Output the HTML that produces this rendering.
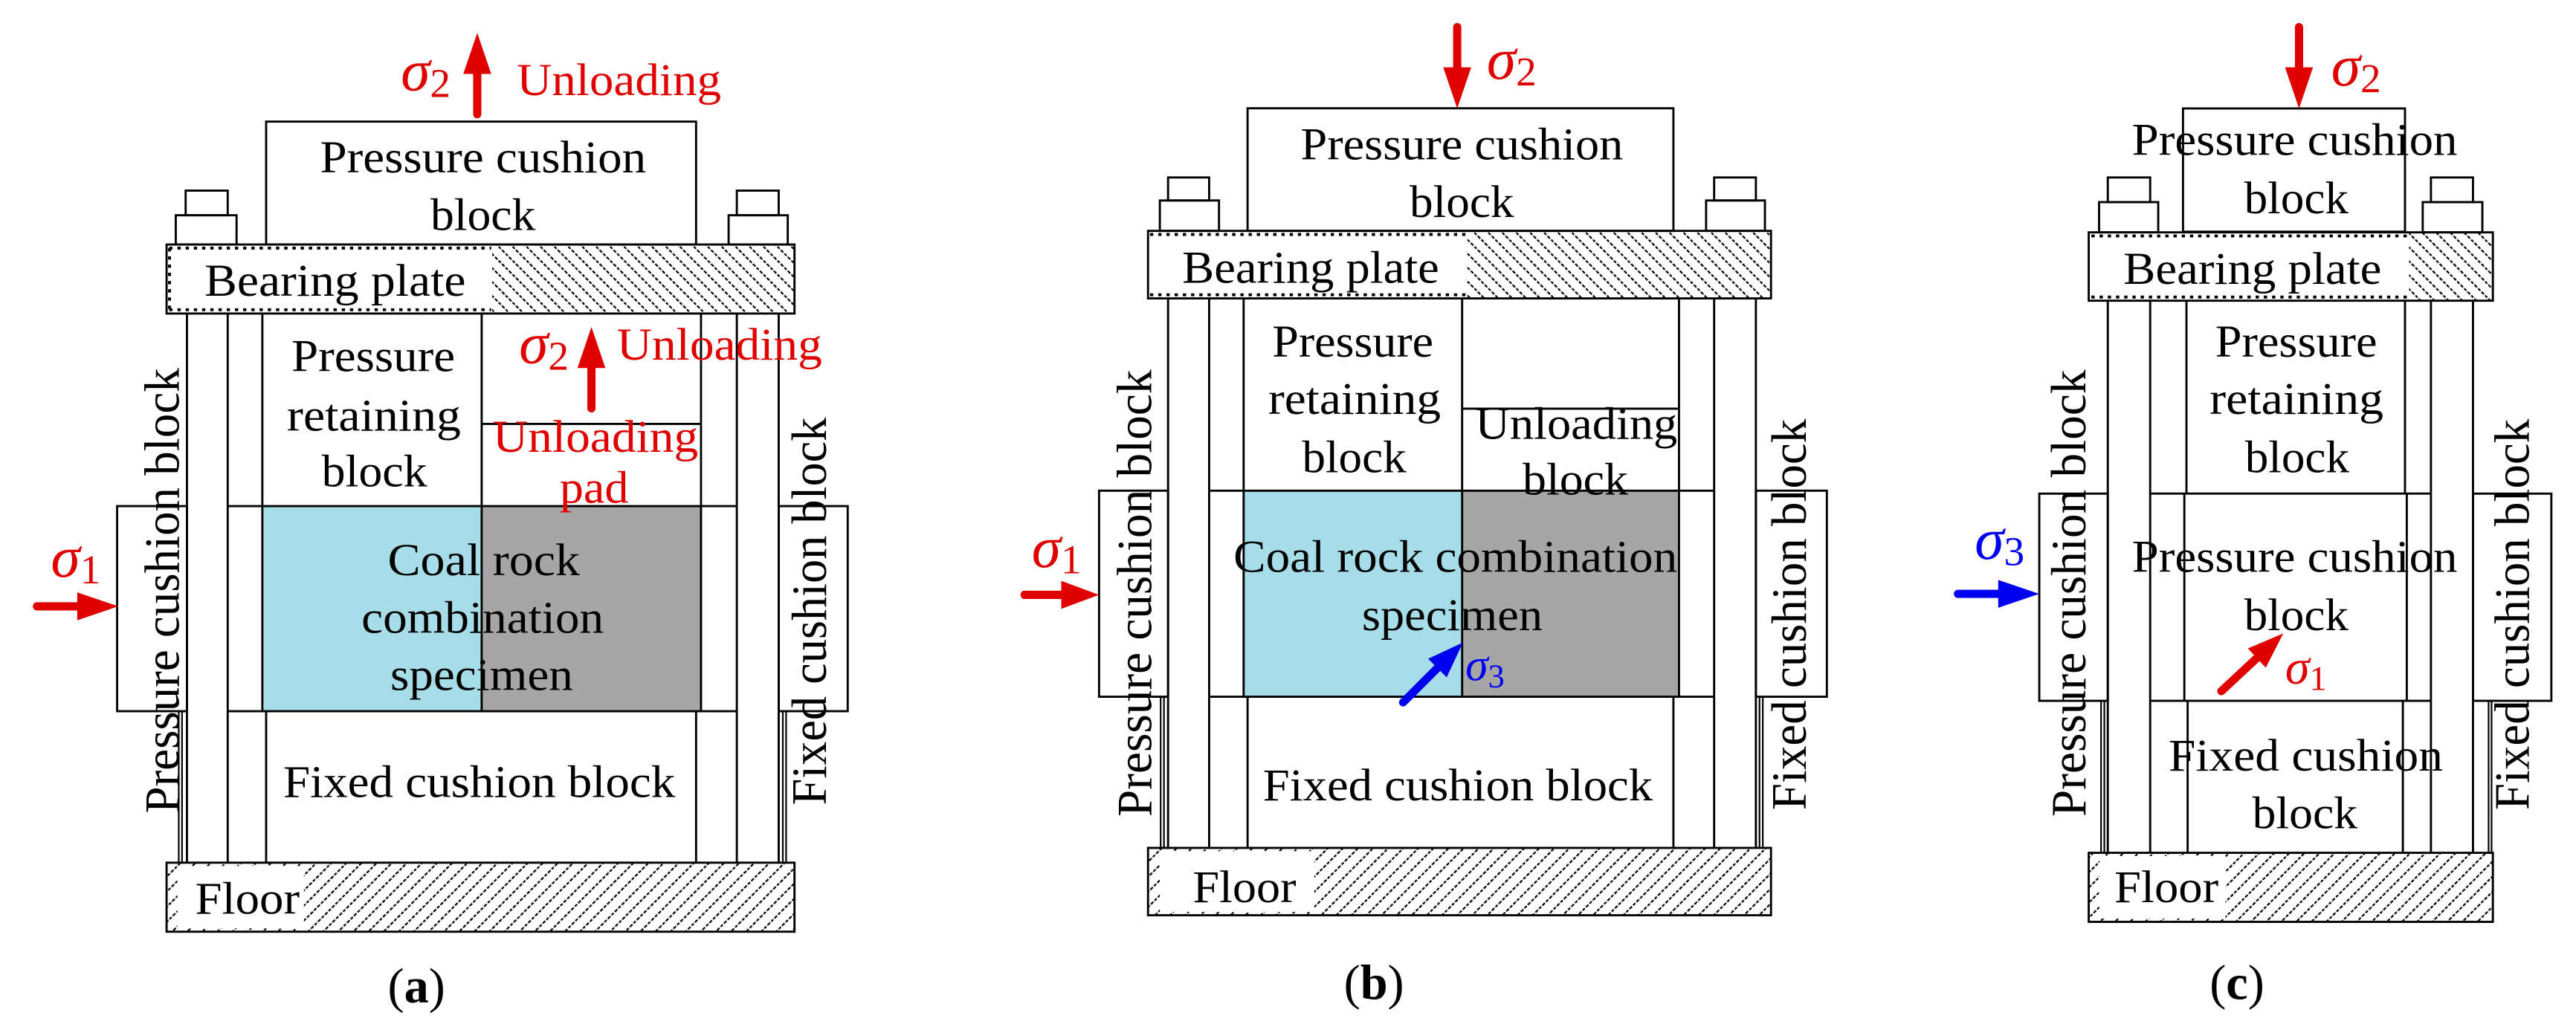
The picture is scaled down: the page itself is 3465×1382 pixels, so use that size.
<!DOCTYPE html>
<html><head><meta charset="utf-8"><style>
html,body{margin:0;padding:0;background:#fff;}
svg{display:block;}
text{font-family:"Liberation Serif","DejaVu Serif",serif;}
</style></head><body>
<svg width="3465" height="1382" viewBox="0 0 1568 625" preserveAspectRatio="none" xmlns="http://www.w3.org/2000/svg">
<defs>
<pattern id="hb" patternUnits="userSpaceOnUse" width="6" height="6" patternTransform="rotate(-45)">
<line x1="0" y1="0" x2="0" y2="6" stroke="#000" stroke-width="2" stroke-dasharray="1.8 1"/>
</pattern>
<pattern id="hf" patternUnits="userSpaceOnUse" width="6.5" height="6" patternTransform="rotate(45)">
<line x1="0" y1="0" x2="0" y2="6" stroke="#000" stroke-width="2" stroke-dasharray="1.8 1"/>
</pattern>
<g id="arR"><rect x="-52" y="-2.5" width="30" height="5" rx="2.5"/><polygon points="-25,-8.5 0,0 -25,8.5"/></g>
<g id="arS"><rect x="-54" y="-2.5" width="34" height="5" rx="2.5"/><polygon points="-22,-8 0,0 -22,8"/></g>
</defs>
<g fill="none" stroke="#000" stroke-width="1.3">
<!-- ===== Panel (a) ===== -->
<rect x="159.7" y="308" width="133.5" height="124.8" fill="#a6dde8" stroke="none"/>
<rect x="293.2" y="308" width="134.2" height="124.8" fill="#a6a6a6" stroke="none"/>
<rect x="162" y="74" width="261.7" height="74.8"/>
<rect x="113" y="116" width="25.6" height="15"/><rect x="107" y="131" width="37" height="17.8"/>
<rect x="448.5" y="116" width="25.5" height="15"/><rect x="443.5" y="131" width="36" height="17.8"/>
<rect x="299.6" y="148.8" width="184" height="42" fill="url(#hb)" stroke="none"/>
<rect x="101.4" y="148.8" width="382.2" height="42"/>
<line x1="103" y1="151" x2="299" y2="151" stroke-dasharray="2 3" stroke-width="1.8"/>
<line x1="103" y1="188.5" x2="299" y2="188.5" stroke-dasharray="2 3" stroke-width="1.8"/>
<line x1="103.2" y1="151" x2="103.2" y2="188" stroke-dasharray="2 3" stroke-width="1.8"/>
<line x1="113.8" y1="190.8" x2="113.8" y2="525"/><line x1="138.6" y1="190.8" x2="138.6" y2="525"/>
<line x1="448.5" y1="190.8" x2="448.5" y2="525"/><line x1="474" y1="190.8" x2="474" y2="525"/>
<line x1="159.7" y1="190.8" x2="159.7" y2="432.8"/><line x1="426.7" y1="190.8" x2="426.7" y2="432.8"/>
<line x1="293.2" y1="190.8" x2="293.2" y2="432.8"/>
<line x1="293.2" y1="258" x2="426.7" y2="258"/>
<line x1="138.6" y1="308" x2="448.5" y2="308"/><line x1="138.6" y1="432.8" x2="448.5" y2="432.8"/>
<rect x="71.3" y="308" width="42.5" height="124.8"/><rect x="474" y="308" width="42" height="124.8"/>
<line x1="162" y1="432.8" x2="162" y2="525"/><line x1="423.7" y1="432.8" x2="423.7" y2="525"/>
<line x1="108.8" y1="432.8" x2="108.8" y2="525" stroke-width="1"/><line x1="110.8" y1="432.8" x2="110.8" y2="525" stroke-width="1"/>
<line x1="476.5" y1="432.8" x2="476.5" y2="525" stroke-width="1"/><line x1="478.5" y1="432.8" x2="478.5" y2="525" stroke-width="1"/>
<rect x="101.4" y="525" width="382.2" height="42" fill="url(#hf)" stroke="none"/>
<rect x="108" y="527" width="77" height="38" fill="#fff" stroke="none"/>
<rect x="101.4" y="525" width="382.2" height="42"/>
<!-- ===== Panel (b) ===== -->
<rect x="757" y="298.6" width="133" height="125.4" fill="#a6dde8" stroke="none"/>
<rect x="890" y="298.6" width="132" height="125.4" fill="#a6a6a6" stroke="none"/>
<rect x="759.4" y="65.9" width="259.2" height="74.6"/>
<rect x="711" y="108" width="25" height="14"/><rect x="706" y="122" width="36" height="18.5"/>
<rect x="1043.4" y="108" width="25.4" height="14"/><rect x="1038.5" y="122" width="35.8" height="18.5"/>
<rect x="892.7" y="140.5" width="185.3" height="41.1" fill="url(#hb)" stroke="none"/>
<rect x="698.8" y="140.5" width="379.2" height="41.1"/>
<line x1="700" y1="142.7" x2="892" y2="142.7" stroke-dasharray="2 3" stroke-width="1.8"/>
<line x1="700" y1="179.4" x2="892" y2="179.4" stroke-dasharray="2 3" stroke-width="1.8"/>
<line x1="711" y1="181.6" x2="711" y2="516"/><line x1="736" y1="181.6" x2="736" y2="516"/>
<line x1="1043.4" y1="181.6" x2="1043.4" y2="516"/><line x1="1068.8" y1="181.6" x2="1068.8" y2="516"/>
<line x1="757" y1="181.6" x2="757" y2="424"/><line x1="1022" y1="181.6" x2="1022" y2="424"/>
<line x1="890" y1="181.6" x2="890" y2="424"/>
<line x1="890" y1="248.7" x2="1022" y2="248.7"/>
<line x1="736" y1="298.6" x2="1043.4" y2="298.6"/><line x1="736" y1="424" x2="1043.4" y2="424"/>
<rect x="669" y="298.6" width="42" height="125.4"/><rect x="1068.8" y="298.6" width="43.2" height="125.4"/>
<line x1="759.4" y1="424" x2="759.4" y2="516"/><line x1="1018.6" y1="424" x2="1018.6" y2="516"/>
<line x1="706.5" y1="424" x2="706.5" y2="516" stroke-width="1"/><line x1="708.5" y1="424" x2="708.5" y2="516" stroke-width="1"/>
<line x1="1071" y1="424" x2="1071" y2="516" stroke-width="1"/><line x1="1073" y1="424" x2="1073" y2="516" stroke-width="1"/>
<rect x="698.8" y="516" width="379.2" height="41" fill="url(#hf)" stroke="none"/>
<rect x="706" y="518" width="94" height="37" fill="#fff" stroke="none"/>
<rect x="698.8" y="516" width="379.2" height="41"/>
<!-- ===== Panel (c) ===== -->
<rect x="1328.8" y="66" width="135.1" height="75"/>
<rect x="1283" y="108" width="25.8" height="15"/><rect x="1277.7" y="123" width="36" height="18.4"/>
<rect x="1479.7" y="108" width="25.6" height="15"/><rect x="1474.7" y="123" width="36.3" height="18.4"/>
<rect x="1466.4" y="141.4" width="51" height="41.6" fill="url(#hb)" stroke="none"/>
<rect x="1271.4" y="141.4" width="246" height="41.6"/>
<line x1="1273" y1="143.6" x2="1466" y2="143.6" stroke-dasharray="2 3" stroke-width="1.8"/>
<line x1="1273" y1="180.8" x2="1466" y2="180.8" stroke-dasharray="2 3" stroke-width="1.8"/>
<line x1="1283" y1="183" x2="1283" y2="519"/><line x1="1308.8" y1="183" x2="1308.8" y2="519"/>
<line x1="1479.7" y1="183" x2="1479.7" y2="519"/><line x1="1505.3" y1="183" x2="1505.3" y2="519"/>
<line x1="1330.9" y1="183" x2="1330.9" y2="300.4"/><line x1="1463.9" y1="183" x2="1463.9" y2="300.4"/>
<line x1="1329.6" y1="300.4" x2="1329.6" y2="426.5"/><line x1="1465" y1="300.4" x2="1465" y2="426.5"/>
<line x1="1331.6" y1="426.5" x2="1331.6" y2="519"/><line x1="1462.6" y1="426.5" x2="1462.6" y2="519"/>
<line x1="1308.8" y1="300.4" x2="1479.7" y2="300.4"/><line x1="1308.8" y1="426.5" x2="1479.7" y2="426.5"/>
<rect x="1241.3" y="300.4" width="41.7" height="126.1"/><rect x="1505.3" y="300.4" width="47.7" height="126.1"/>
<line x1="1278.9" y1="426.5" x2="1278.9" y2="519" stroke-width="1"/><line x1="1280.9" y1="426.5" x2="1280.9" y2="519" stroke-width="1"/>
<line x1="1514.8" y1="426.5" x2="1514.8" y2="519" stroke-width="1"/><line x1="1516.6" y1="426.5" x2="1516.6" y2="519" stroke-width="1"/>
<rect x="1271.4" y="519" width="246" height="42" fill="url(#hf)" stroke="none"/>
<rect x="1278" y="521" width="76.7" height="38" fill="#fff" stroke="none"/>
<rect x="1271.4" y="519" width="246" height="42"/>
</g>

<!-- arrows -->
<g fill="#e00000">
<use href="#arR" transform="translate(290.5,20) rotate(-90)"/>
<use href="#arR" transform="translate(360,199) rotate(-90)"/>
<use href="#arR" transform="translate(72,369)"/>
<use href="#arR" transform="translate(887,66) rotate(90)"/>
<use href="#arR" transform="translate(669,362) scale(0.92,1)"/>
<use href="#arR" transform="translate(1399.4,66) rotate(90)"/>
<use href="#arS" transform="translate(1389.8,385.5) rotate(-43)"/>
</g>
<g fill="#0000f0">
<use href="#arS" transform="translate(890.5,391) rotate(-45)"/>
<use href="#arR" transform="translate(1241.3,361.4)"/>
</g>

<!-- text -->
<g font-size="28" fill="#000">
<!-- (a) -->
<text x="194.8" y="105" textLength="198.5" lengthAdjust="spacingAndGlyphs">Pressure cushion</text>
<text x="262" y="140" textLength="64" lengthAdjust="spacingAndGlyphs">block</text>
<text x="124.5" y="180" textLength="159" lengthAdjust="spacingAndGlyphs">Bearing plate</text>
<text x="177.4" y="226" textLength="99.6" lengthAdjust="spacingAndGlyphs">Pressure</text>
<text x="174.7" y="262" textLength="105.8" lengthAdjust="spacingAndGlyphs">retaining</text>
<text x="195.8" y="296" textLength="64.2" lengthAdjust="spacingAndGlyphs">block</text>
<text x="236" y="350" textLength="117" lengthAdjust="spacingAndGlyphs">Coal rock</text>
<text x="220" y="385" textLength="147.5" lengthAdjust="spacingAndGlyphs">combination</text>
<text x="237.6" y="420" textLength="111.2" lengthAdjust="spacingAndGlyphs">specimen</text>
<text x="172.4" y="485" textLength="238.6" lengthAdjust="spacingAndGlyphs">Fixed cushion block</text>
<text x="118.8" y="556" textLength="63.6" lengthAdjust="spacingAndGlyphs">Floor</text>
<text font-size="30" transform="translate(108.8,495) rotate(-90)" textLength="271" lengthAdjust="spacingAndGlyphs">Pressure cushion block</text>
<text font-size="30" transform="translate(502.7,490) rotate(-90)" textLength="236" lengthAdjust="spacingAndGlyphs">Fixed cushion block</text>
<text x="236" y="610" font-size="30">(<tspan font-weight="bold">a</tspan>)</text>
<!-- (b) -->
<text x="791.7" y="97" textLength="196.3" lengthAdjust="spacingAndGlyphs">Pressure cushion</text>
<text x="858" y="132" textLength="63.6" lengthAdjust="spacingAndGlyphs">block</text>
<text x="719.6" y="172" textLength="156.4" lengthAdjust="spacingAndGlyphs">Bearing plate</text>
<text x="774.4" y="217" textLength="98.1" lengthAdjust="spacingAndGlyphs">Pressure</text>
<text x="772" y="252" textLength="105" lengthAdjust="spacingAndGlyphs">retaining</text>
<text x="792.6" y="287.5" textLength="63.4" lengthAdjust="spacingAndGlyphs">block</text>
<text x="898" y="267" textLength="123" lengthAdjust="spacingAndGlyphs">Unloading</text>
<text x="926.8" y="301" textLength="64.2" lengthAdjust="spacingAndGlyphs">block</text>
<text x="750.8" y="348" textLength="270.2" lengthAdjust="spacingAndGlyphs">Coal rock combination</text>
<text x="829" y="383.5" textLength="110" lengthAdjust="spacingAndGlyphs">specimen</text>
<text x="768.7" y="487" textLength="237.3" lengthAdjust="spacingAndGlyphs">Fixed cushion block</text>
<text x="726" y="549" textLength="63" lengthAdjust="spacingAndGlyphs">Floor</text>
<text font-size="30" transform="translate(700.8,497) rotate(-90)" textLength="272" lengthAdjust="spacingAndGlyphs">Pressure cushion block</text>
<text font-size="30" transform="translate(1099.1,493) rotate(-90)" textLength="238" lengthAdjust="spacingAndGlyphs">Fixed cushion block</text>
<text x="818" y="608" font-size="30">(<tspan font-weight="bold">b</tspan>)</text>
<!-- (c) -->
<text x="1297.7" y="94.4" textLength="198.1" lengthAdjust="spacingAndGlyphs">Pressure cushion</text>
<text x="1366" y="129.7" textLength="63.5" lengthAdjust="spacingAndGlyphs">block</text>
<text x="1292.5" y="172.7" textLength="157.1" lengthAdjust="spacingAndGlyphs">Bearing plate</text>
<text x="1348.4" y="217" textLength="98.6" lengthAdjust="spacingAndGlyphs">Pressure</text>
<text x="1345" y="252" textLength="105.8" lengthAdjust="spacingAndGlyphs">retaining</text>
<text x="1366.5" y="287.5" textLength="63.5" lengthAdjust="spacingAndGlyphs">block</text>
<text x="1297.7" y="348" textLength="198.1" lengthAdjust="spacingAndGlyphs">Pressure cushion</text>
<text x="1366" y="383.5" textLength="63.5" lengthAdjust="spacingAndGlyphs">block</text>
<text x="1320" y="469" textLength="167" lengthAdjust="spacingAndGlyphs">Fixed cushion</text>
<text x="1371" y="504" textLength="64" lengthAdjust="spacingAndGlyphs">block</text>
<text x="1287" y="549" textLength="63.4" lengthAdjust="spacingAndGlyphs">Floor</text>
<text font-size="30" transform="translate(1269.4,497) rotate(-90)" textLength="272" lengthAdjust="spacingAndGlyphs">Pressure cushion block</text>
<text font-size="30" transform="translate(1539.2,493) rotate(-90)" textLength="238" lengthAdjust="spacingAndGlyphs">Fixed cushion block</text>
<text x="1345" y="608" font-size="30">(<tspan font-weight="bold">c</tspan>)</text>
</g>

<!-- red/blue labels -->
<g font-size="28" fill="#e00000">
<text x="314.6" y="58" textLength="124.4" lengthAdjust="spacingAndGlyphs">Unloading</text>
<text x="375.5" y="219" textLength="124.9" lengthAdjust="spacingAndGlyphs">Unloading</text>
<text x="300" y="275" textLength="125" lengthAdjust="spacingAndGlyphs">Unloading</text>
<text x="340.7" y="306" textLength="41.9" lengthAdjust="spacingAndGlyphs">pad</text>
<text x="244" y="55" font-size="36"><tspan font-style="italic">σ</tspan><tspan font-size="25" dy="4">2</tspan></text>
<text x="316" y="221" font-size="36"><tspan font-style="italic">σ</tspan><tspan font-size="25" dy="4">2</tspan></text>
<text x="31" y="351" font-size="36"><tspan font-style="italic">σ</tspan><tspan font-size="25" dy="4">1</tspan></text>
<text x="905" y="48" font-size="36"><tspan font-style="italic">σ</tspan><tspan font-size="25" dy="4">2</tspan></text>
<text x="628" y="345" font-size="36"><tspan font-style="italic">σ</tspan><tspan font-size="25" dy="4">1</tspan></text>
<text x="1419" y="52" font-size="36"><tspan font-style="italic">σ</tspan><tspan font-size="25" dy="4">2</tspan></text>
<text x="1391" y="416" font-size="30"><tspan font-style="italic">σ</tspan><tspan font-size="21" dy="4">1</tspan></text>
</g>
<g fill="#0000f0">
<text x="892" y="414" font-size="28"><tspan font-style="italic">σ</tspan><tspan font-size="20" dy="4">3</tspan></text>
<text x="1202" y="340" font-size="36"><tspan font-style="italic">σ</tspan><tspan font-size="25" dy="4">3</tspan></text>
</g>
</svg>
</body></html>
